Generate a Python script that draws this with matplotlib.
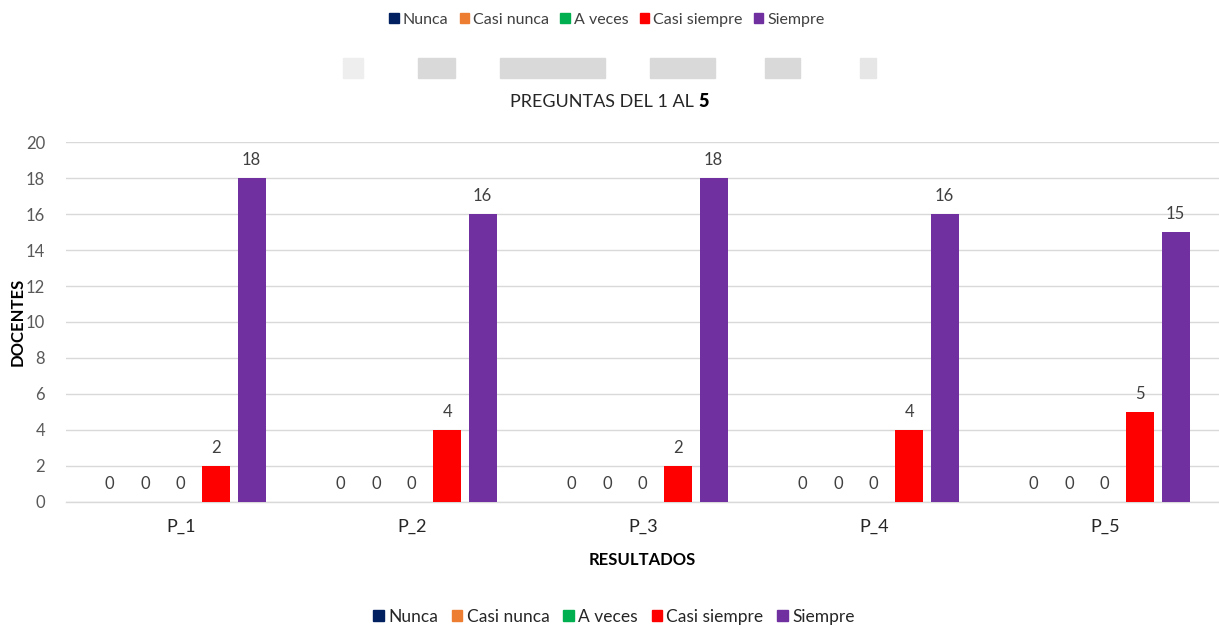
import matplotlib
matplotlib.use("Agg")
import matplotlib.pyplot as plt
from matplotlib.patches import Rectangle, Patch
import numpy as np

plt.rcParams['font.family'] = ['Lato', 'DejaVu Sans']

categories = ["P_1", "P_2", "P_3", "P_4", "P_5"]
series_names = ["Nunca", "Casi nunca", "A veces", "Casi siempre", "Siempre"]
nunca = [0, 0, 0, 0, 0]
casi_nunca = [0, 0, 0, 0, 0]
a_veces = [0, 0, 0, 0, 0]
casi_siempre = [2, 4, 2, 4, 5]
siempre = [18, 16, 18, 16, 15]
colors = ["#002060", "#ED7D31", "#00B050", "#FF0000", "#7030A0"]

W, H = 1219, 628
fig = plt.figure(figsize=(W / 100, H / 100), dpi=100)

# axes placed in pixel coords of the reference
ax = fig.add_axes([66 / W, (H - 502) / H, 1155 / W, 360 / H])
ax.set_xlim(-0.5, 4.5)
ax.set_ylim(0, 20)

x = np.arange(len(categories))
step = 0.1537
width = 0.121
all_series = [nunca, casi_nunca, a_veces, casi_siempre, siempre]
for i, (vals, col, name) in enumerate(zip(all_series, colors, series_names)):
    pos = x + (i - 2) * step - 0.004
    ax.bar(pos, vals, width, color=col, label=name, zorder=3)
    for xx, v in zip(pos, vals):
        ax.annotate(str(v), (xx, v), xytext=(0, 9.5), textcoords="offset points",
                    ha="center", va="baseline", fontsize=12, color="#404040")

ax.set_yticks(range(0, 21, 2))
ax.yaxis.grid(True, color="#d9d9d9", linewidth=1.0, zorder=0)
ax.set_axisbelow(True)
for s in ["top", "right", "left"]:
    ax.spines[s].set_visible(False)
ax.spines["bottom"].set_color("#d9d9d9")
ax.spines["bottom"].set_linewidth(1.0)
ax.tick_params(axis="y", length=0, labelsize=12, labelcolor="#595959", pad=15)
ax.tick_params(axis="x", length=0, labelsize=13, labelcolor="#262626", pad=12)
ax.set_xticks(x)
ax.set_xticklabels(categories)

fig.text(18 / W, 1 - 322 / H, "DOCENTES", rotation=90, ha="center", va="center",
         fontsize=12, fontweight="bold", color="#000000")
fig.text(642 / W, 1 - 560 / H, "RESULTADOS", ha="center", va="center",
         fontsize=12, fontweight="bold", color="#000000")

# title with bold last character
t = fig.text(604 / W, 1 - 102 / H, "PREGUNTAS DEL 1 AL ", ha="center", va="center",
             fontsize=13, color="#262626")
fig.canvas.draw()
ax.annotate("5", xy=(1, 0), xycoords=t, va="bottom", ha="left",
            fontsize=13, fontweight="heavy", color="#000000")

# grey watermark band left over from the scan
band = [(343, 20, "#eeeeee"), (418, 37, "#d9d9d9"), (500, 105, "#d9d9d9"),
        (650, 65, "#d9d9d9"), (765, 35, "#d9d9d9"), (860, 16, "#e6e6e6")]
for bx, bw, bc in band:
    fig.patches.append(Rectangle((bx / W, 1 - 78 / H), bw / W, 20 / H,
                                 transform=fig.transFigure, color=bc, zorder=0))

handles = [Patch(color=c, label=n) for c, n in zip(colors, series_names)]
fig.legend(handles=handles, loc="center", bbox_to_anchor=(607 / W, 1 - 20 / H),
           ncol=5, frameon=False, fontsize=11.5, labelcolor="#404040",
           handlelength=0.6, handleheight=0.6, handletextpad=0.25, columnspacing=0.7)
fig.legend(handles=handles, loc="center", bbox_to_anchor=(614 / W, 1 - 617 / H),
           ncol=5, frameon=False, fontsize=12.5, labelcolor="#262626",
           handlelength=0.6, handleheight=0.6, handletextpad=0.25, columnspacing=0.8)

fig.savefig("out.png", dpi=100)
